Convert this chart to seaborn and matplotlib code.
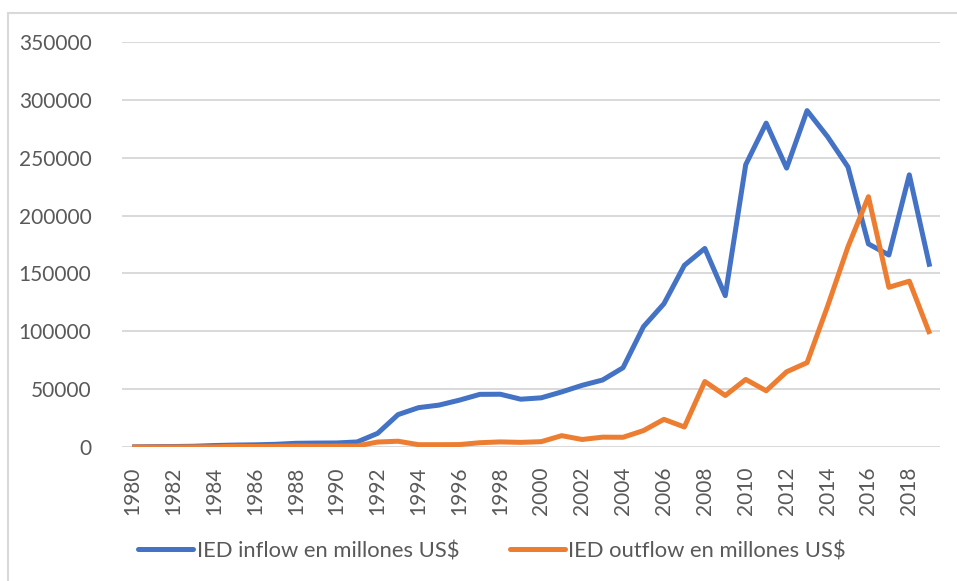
import matplotlib
matplotlib.use("Agg")
import matplotlib.pyplot as plt
from matplotlib.patches import Rectangle
import seaborn as sns
import pandas as pd

years = list(range(1980, 2020))

inflow = [100, 300, 430, 640, 1260, 1660, 1880, 2310, 3190, 3390,
          3490, 4370, 11800, 28000, 34000, 36200, 40500, 45500, 45600, 41300,
          42500, 47600, 53300, 57900, 68500, 104000, 123800, 157000, 171600, 130800,
          244000, 279900, 241000, 290700, 268200, 242000, 175500, 165900, 235200, 155800]

outflow = [0, 0, 40, 90, 130, 630, 450, 650, 850, 780,
           830, 910, 4300, 5000, 2000, 2000, 2100, 3700, 4400, 4000,
           4600, 9800, 6500, 8500, 8400, 14200, 23900, 17300, 56600, 44500,
           58400, 48600, 65000, 72900, 121500, 173000, 216300, 138000, 143300, 97700]

series_names = ["IED inflow en millones US$", "IED outflow en millones US$"]
colors = ["#4472C4", "#ED7D31"]

df = pd.DataFrame({
    "year": years * 2,
    "value": inflow + outflow,
    "serie": [series_names[0]] * len(years) + [series_names[1]] * len(years),
})

sns.set_style("white")
plt.rcParams["font.family"] = ["Lato", "DejaVu Sans"]
text_color = "#595959"
grid_color = "#d9d9d9"

fig = plt.figure(figsize=(9.57, 5.81), dpi=100)
ax = fig.add_axes([122 / 957, 1 - 447 / 581, (940 - 122) / 957, (447 - 42) / 581])

sns.lineplot(data=df, x="year", y="value", hue="serie", palette=colors,
             linewidth=3.6, ax=ax, legend=False)
for line in ax.lines:
    line.set_solid_joinstyle("round")
    line.set_solid_capstyle("butt")

ax.set_xlim(1979.5, 2019.5)
ax.set_ylim(0, 350000)
ax.set_yticks(range(0, 350001, 50000))
ax.set_yticklabels([str(v) for v in range(0, 350001, 50000)])
ax.set_xticks(years[::2])
ax.set_xticklabels([str(y) for y in years[::2]], rotation=90)
ax.set_xlabel("")
ax.set_ylabel("")

ax.grid(axis="y", color=grid_color, linewidth=1.4)
ax.set_axisbelow(True)
for s in ax.spines.values():
    s.set_visible(False)
ax.tick_params(axis="both", length=0, labelsize=15, colors=text_color)
ax.tick_params(axis="y", pad=22)
ax.tick_params(axis="x", pad=14)

# legend at the bottom
handles = [plt.Line2D([0], [0], color=c, linewidth=3.6, solid_capstyle="round") for c in colors]
leg = fig.legend(handles, series_names, loc="center", bbox_to_anchor=(492 / 957, 1 - 551 / 581),
                 ncol=2, frameon=False, fontsize=15.8, handlelength=2.5, handletextpad=0.18,
                 columnspacing=2.3)
for t in leg.get_texts():
    t.set_color(text_color)

# outer chart border
fig.patches.append(Rectangle((8 / 957, -0.05), 1.0, 1 - 13 / 581 + 0.05, transform=fig.transFigure,
                             fill=False, edgecolor=grid_color, linewidth=1.5))

fig.savefig("out.png", dpi=100)
